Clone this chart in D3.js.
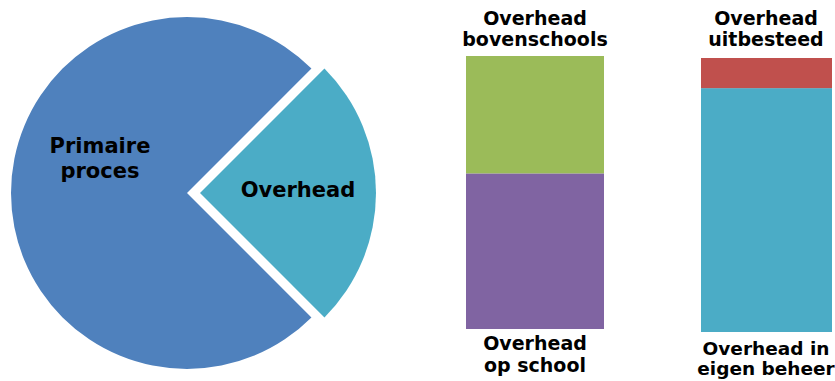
<!DOCTYPE html>
<html>
<head>
<meta charset="utf-8">
<script src="https://cdn.jsdelivr.net/npm/d3@7"></script>
<style>
  html, body { margin: 0; padding: 0; background: #ffffff; }
  svg text { font-family: "DejaVu Sans", Verdana, sans-serif; font-weight: bold; fill: #000; }
</style>
</head>
<body>
<svg id="chart" width="835" height="381"></svg>
<script>
// ---- data ----
const pieCategories = ["Primaire proces", "Overhead"];
const pieValues = [75, 25];
const pieColors = ["#4F81BD", "#4BACC6"];

const bar1Categories = ["Overhead op school", "Overhead bovenschools"];
const bar1Values = [57, 43];
const bar1Colors = ["#8064A2", "#9BBB59"];

const bar2Categories = ["Overhead in eigen beheer", "Overhead uitbesteed"];
const bar2Values = [89, 11];
const bar2Colors = ["#4BACC6", "#C0504D"];

// ---- layout ----
const svg = d3.select("#chart");

// Pie
const cx = 187, cy = 193, R = 176, explode = 13;
const pie = d3.pie().sort(null).value(d => d)
  .startAngle(3 * Math.PI / 4).endAngle(3 * Math.PI / 4 + 2 * Math.PI);
const arcs = pie(pieValues);
const arc = d3.arc().innerRadius(0).outerRadius(R);
const gPie = svg.append("g").attr("transform", `translate(${cx},${cy})`);
gPie.selectAll("path").data(arcs).enter().append("path")
  .attr("d", arc)
  .attr("fill", (d, i) => pieColors[i])
  .attr("transform", (d, i) => {
    if (i === 0) return null;
    const a = (d.startAngle + d.endAngle) / 2;
    return `translate(${explode * Math.sin(a)},${-explode * Math.cos(a)})`;
  });

function multiline(g, x, y, lines, lh, fs) {
  const t = g.append("text").attr("x", x).attr("y", y)
    .attr("text-anchor", "middle").style("font-size", fs + "px");
  lines.forEach((l, i) => t.append("tspan").attr("x", x).attr("dy", i === 0 ? 0 : lh).text(l));
  return t;
}
// Pie labels
multiline(svg, 100, 153, ["Primaire", "proces"], 25, 21);
multiline(svg, 298, 197, ["Overhead"], 25, 21);

// Stacked bars
function stackedBar(values, colors, x0, x1, yTop, yBottom) {
  const y = d3.scaleLinear().domain([0, d3.sum(values)]).range([yBottom, yTop]);
  let acc = 0;
  values.forEach((v, i) => {
    svg.append("rect")
      .attr("x", x0).attr("width", x1 - x0)
      .attr("y", y(acc + v)).attr("height", y(acc) - y(acc + v))
      .attr("fill", colors[i]);
    acc += v;
  });
}
stackedBar(bar1Values, bar1Colors, 466, 604, 56, 329);
stackedBar(bar2Values, bar2Colors, 701, 832, 58, 332);

// Bar labels
multiline(svg, 535, 25, ["Overhead", "bovenschools"], 21, 19);
multiline(svg, 535, 350, ["Overhead", "op school"], 21.5, 19);
multiline(svg, 766, 25, ["Overhead", "uitbesteed"], 21, 19);
multiline(svg, 766, 355, ["Overhead in", "eigen beheer"], 20, 18.5);
</script>
</body>
</html>
